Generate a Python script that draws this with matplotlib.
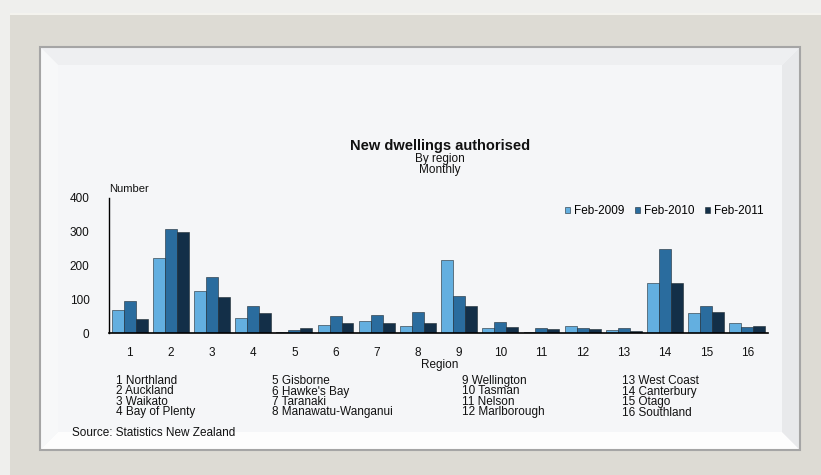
import matplotlib.pyplot as plt
from matplotlib.patches import Rectangle, Polygon
import numpy as np

plt.rcParams['font.family'] = ['Liberation Sans', 'DejaVu Sans']

regions = ["1", "2", "3", "4", "5", "6", "7", "8",
           "9", "10", "11", "12", "13", "14", "15", "16"]
feb_2009 = [69, 221, 124, 43, 3, 25, 35, 20, 216, 14, 3, 20, 9, 147, 60, 29]
feb_2010 = [96, 309, 166, 80, 10, 51, 54, 63, 110, 34, 15, 15, 15, 250, 80, 19]
feb_2011 = [42, 298, 106, 59, 16, 29, 29, 29, 81, 18, 13, 12, 7, 148, 63, 22]
series_names = ["Feb-2009", "Feb-2010", "Feb-2011"]
colors = ["#63afe0", "#2a6c9e", "#132f48"]

region_names = [
    ["1 Northland", "2 Auckland", "3 Waikato", "4 Bay of Plenty"],
    ["5 Gisborne", "6 Hawke's Bay", "7 Taranaki", "8 Manawatu-Wanganui"],
    ["9 Wellington", "10 Tasman", "11 Nelson", "12 Marlborough"],
    ["13 West Coast", "14 Canterbury", "15 Otago", "16 Southland"],
]

W, H = 821, 475
fig = plt.figure(figsize=(W / 100, H / 100), dpi=100)
fig.patch.set_facecolor("#efefed")


def fx(px):
    return px / W


def fy(py):
    return 1 - py / H


def add_patch(p):
    p.set_transform(fig.transFigure)
    p.set_zorder(-5)
    fig.patches.append(p)


# picture frame
add_patch(Rectangle((fx(10), 0), fx(W - 10), fy(13), facecolor="#dddbd4", edgecolor="none"))
add_patch(Rectangle((fx(10), fy(15)), fx(W - 10), 2 / H, facecolor="#f4f3ee", edgecolor="none"))
# inner panel with bevel
x0, x1, y0, y1 = 40, 800, 47, 450
add_patch(Rectangle((fx(x0), fy(y1)), fx(x1 - x0), (y1 - y0) / H,
                    facecolor="#f5f6f8", edgecolor="none"))
b = 18
add_patch(Polygon([(fx(x0), fy(y1)), (fx(x1), fy(y1)), (fx(x1 - b), fy(y1 - b)),
                   (fx(x0 + b), fy(y1 - b))], closed=True, facecolor="#fdfdfd", edgecolor="none"))
add_patch(Polygon([(fx(x1), fy(y0)), (fx(x1), fy(y1)), (fx(x1 - b), fy(y1 - b)),
                   (fx(x1 - b), fy(y0 + b))], closed=True, facecolor="#e8e9eb", edgecolor="none"))
add_patch(Polygon([(fx(x0), fy(y0)), (fx(x1), fy(y0)), (fx(x1 - b), fy(y0 + b)),
                   (fx(x0 + b), fy(y0 + b))], closed=True, facecolor="#eeeff1", edgecolor="none"))
add_patch(Polygon([(fx(x0), fy(y0)), (fx(x0), fy(y1)), (fx(x0 + b), fy(y1 - b)),
                   (fx(x0 + b), fy(y0 + b))], closed=True, facecolor="#f7f8f9", edgecolor="none"))
add_patch(Rectangle((fx(x0), fy(y1)), fx(x1 - x0), (y1 - y0) / H,
                    facecolor="none", edgecolor="#a5a5a5", linewidth=1.5))

# chart axes
ax = fig.add_axes([fx(109), fy(333), fx(768 - 109), (333 - 198) / H])
ax.set_facecolor("none")
x = np.arange(1, len(regions) + 1)
bw = 0.29
for i, (vals, name, c) in enumerate(zip([feb_2009, feb_2010, feb_2011], series_names, colors)):
    ax.bar(x + (i - 1) * bw, vals, width=bw, color=c, edgecolor="#1d2a33",
           linewidth=0.4, label=name)

ax.set_xlim(0.5, 16.5)
ax.set_ylim(0, 400)
ax.set_yticks([0, 100, 200, 300, 400])
ax.set_xticks(x)
ax.set_xticklabels(regions)
for s in ["top", "right"]:
    ax.spines[s].set_visible(False)
ax.spines["left"].set_linewidth(1.0)
ax.spines["bottom"].set_linewidth(1.2)
ax.tick_params(axis="both", length=0, labelsize=8.5, colors="#111111")
ax.tick_params(axis="x", pad=10)
ax.tick_params(axis="y", pad=14)

leg = ax.legend(loc="upper right", bbox_to_anchor=(1.0, 0.98), ncol=3, frameon=False,
                fontsize=8.5, handlelength=0.45, handleheight=0.45, handletextpad=0.3,
                columnspacing=0.9, borderaxespad=0)

# titles and labels
fig.text(fx(440), fy(146), "New dwellings authorised", ha="center", va="center",
         fontsize=10.5, fontweight="bold", color="#111111")
fig.text(fx(440), fy(159), "By region", ha="center", va="center", fontsize=8.5, color="#111111")
fig.text(fx(440), fy(170.5), "Monthly", ha="center", va="center", fontsize=8.5, color="#111111")
fig.text(fx(109), fy(189), "Number", ha="left", va="center", fontsize=8, color="#111111")
fig.text(fx(440), fy(365), "Region", ha="center", va="center", fontsize=8.5, color="#111111")

col_x = [116, 272, 462, 622]
row_y = [381, 391.5, 402, 412.5]
for cx, names in zip(col_x, region_names):
    for ry, nm in zip(row_y, names):
        fig.text(fx(cx), fy(ry), nm, ha="left", va="center", fontsize=8.5, color="#111111")

fig.text(fx(72), fy(433), "Source: Statistics New Zealand", ha="left", va="center",
         fontsize=8.5, color="#111111")

fig.savefig("out.png", dpi=100, facecolor=fig.get_facecolor())
